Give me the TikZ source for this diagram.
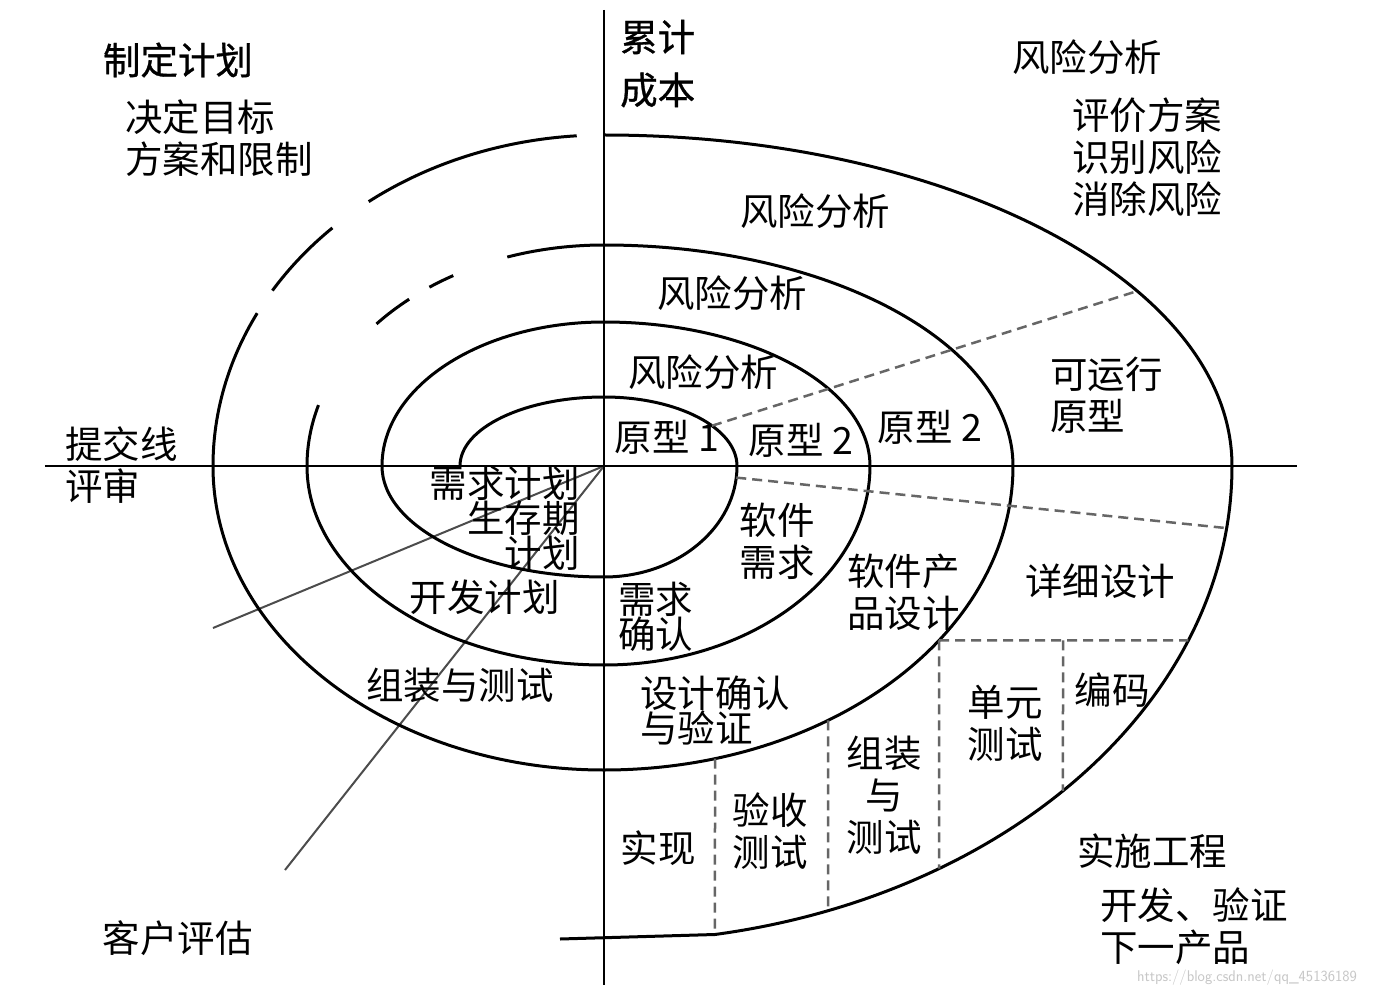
\documentclass[tikz,border=0pt]{standalone}
\usepackage{fontspec}
\newfontfamily\cjk{Noto Sans CJK SC}
\newfontfamily\cjkbold[FakeBold=0.8]{Noto Sans CJK SC}
\tikzset{
  lbl/.style={font=\cjk\fontsize{37.5}{42}\selectfont, inner sep=0pt, align=left},
  lbltight/.style={lbl, font=\cjk\fontsize{37.5}{35}\selectfont},
  head/.style={lbl, font=\cjkbold\fontsize{37.5}{42}\selectfont},
  spiral/.style={line width=3pt, line join=round},
  axis/.style={line width=2.5pt},
  seam/.style={black!60, line width=2.5pt, dash pattern=on 10pt off 6pt},
  review/.style={black!70, line width=2pt}
}
\begin{document}
\begin{tikzpicture}[x=1pt, y=1pt]
\path[use as bounding box, fill=white] (-604,-530) rectangle (771,466);
\coordinate (O) at (0,0);
\coordinate (xl) at (-559,0);
\coordinate (xr) at (693,0);
\coordinate (yt) at (0,456);
\coordinate (yb) at (0,-519);
\coordinate (subm) at (-391,-162);
\coordinate (cust) at (-319,-404);
\coordinate (tail) at (-44,-473);
\draw[review] (O) -- (subm);
\draw[review] (O) -- (cust);
\draw[axis] (xl) -- (xr);
\draw[axis] (yt) -- (yb);
\draw[spiral] (180:144 and 69)
  arc[start angle=180, end angle=90, x radius=144, y radius=69]
  arc[start angle=90, end angle=0, x radius=133, y radius=69]
  arc[start angle=0, end angle=-90, x radius=133, y radius=111]
  arc[start angle=-90, end angle=-180, x radius=222, y radius=111]
  arc[start angle=180, end angle=90, x radius=222, y radius=144]
  arc[start angle=90, end angle=0, x radius=266, y radius=144]
  arc[start angle=0, end angle=-90, x radius=266, y radius=199]
  arc[start angle=-90, end angle=-180, x radius=297, y radius=199]
  arc[start angle=180, end angle=164, x radius=297, y radius=221];
\foreach \a/\b in {140/131, 126/120.5}
  \draw[spiral] (\a:297 and 221) arc[start angle=\a, end angle=\b, x radius=297, y radius=221];
\draw[spiral] (109:297 and 221)
  arc[start angle=109, end angle=90, x radius=297, y radius=221]
  arc[start angle=90, end angle=0, x radius=409, y radius=221]
  arc[start angle=0, end angle=-90, x radius=409, y radius=304]
  arc[start angle=-90, end angle=-180, x radius=391, y radius=304]
  arc[start angle=180, end angle=152.5, x radius=391, y radius=331];
\foreach \a/\b in {148/134, 127/94}
  \draw[spiral] (\a:391 and 331) arc[start angle=\a, end angle=\b, x radius=391, y radius=331];
\draw[spiral] (90:391 and 331)
  arc[start angle=90, end angle=0, x radius=628, y radius=331]
  arc[start angle=0, end angle=-79.82, x radius=628, y radius=476]
  -- (tail);
\coordinate (p1a) at (35.7:133 and 69);
\coordinate (p1b) at (31.9:628 and 331);
\coordinate (p2a) at (-6:133 and 111);
\coordinate (p2b) at (-7.5:628 and 476);
\coordinate (k1) at (-35:409 and 304);
\coordinate (k2) at (-21.49:628 and 476);
\coordinate (k3) at (-57.76:628 and 476);
\coordinate (k4) at (459,-174.4);
\coordinate (k5) at (-43.04:628 and 476);
\coordinate (k6) at (-56.79:409 and 304);
\coordinate (k7) at (-69.1:628 and 476);
\coordinate (k8) at (-74.25:409 and 304);
\coordinate (k9) at (-79.82:628 and 476);
\draw[seam] (p1a) -- (p1b);
\draw[seam] (p2a) -- (p2b);
\draw[seam] (k1) -- (k2);
\draw[seam] (k1) -- (k3);
\draw[seam] (k4) -- (k5);
\draw[seam] (k6) -- (k7);
\draw[seam] (k8) -- (k9);
\node[head] (plan) at (-426,406) {制定计划};
\node[lbl, anchor=west] (goals) at (-479,327.5) {决定目标\\方案和限制};
\node[head, anchor=west] (cost1) at (16,429) {累计};
\node[head, anchor=west] (cost2) at (16,376) {成本};
\node[lbl] (riskq) at (483,409) {风险分析};
\node[lbl, anchor=west] (risktasks) at (468,309) {评价方案\\识别风险\\消除风险};
\node[lbl] (risk4) at (211,255) {风险分析};
\node[lbl] (risk3) at (128,173) {风险分析};
\node[lbl] (risk2) at (99,94) {风险分析};
\node[lbl] (proto1) at (63,29) {原型 1};
\node[lbl] (proto2) at (197,26) {原型 2};
\node[lbl] (proto3) at (326,39) {原型 2};
\node[lbl, anchor=west] (oproto) at (446,71) {可运行\\原型};
\node[lbl, anchor=west] (commit) at (-539,1) {提交线\\评审};
\node[lbltight, anchor=east, align=right] (lcp) at (-24,-52) {需求计划\\生存期\\计划};
\node[lbl] (devplan) at (-119,-131) {开发计划};
\node[lbl] (intplan) at (-144,-219) {组装与测试};
\node[lbl, align=center] (swreq) at (173,-75) {软件\\需求};
\node[lbltight, anchor=west] (reqval) at (14,-151) {需求\\确认};
\node[lbl, anchor=west] (prodes) at (243,-126.5) {软件产\\品设计};
\node[lbl] (detdes) at (496,-115) {详细设计};
\node[lbltight, anchor=west] (desval) at (36,-245) {设计确认\\与验证};
\node[lbl, align=center] (unit) at (401,-257) {单元\\测试};
\node[lbl] (code) at (508,-224) {编码};
\node[lbl, align=center] (integ) at (280,-329) {组装\\与\\测试};
\node[lbl, align=center] (accept) at (166,-365) {验收\\测试};
\node[lbl] (impl) at (54,-382) {实现};
\node[lbl] (engq) at (548,-385) {实施工程};
\node[lbl, anchor=west] (engtasks) at (496,-460) {开发、验证\\下一产品};
\node[lbl] (custeval) at (-426,-472) {客户评估};
\node[font=\sffamily\fontsize{15.5}{17}\selectfont, text=black!22, inner sep=0pt] (wm) at (643,-512) {https://blog.csdn.net/qq\_45136189};
\end{tikzpicture}
\end{document}
